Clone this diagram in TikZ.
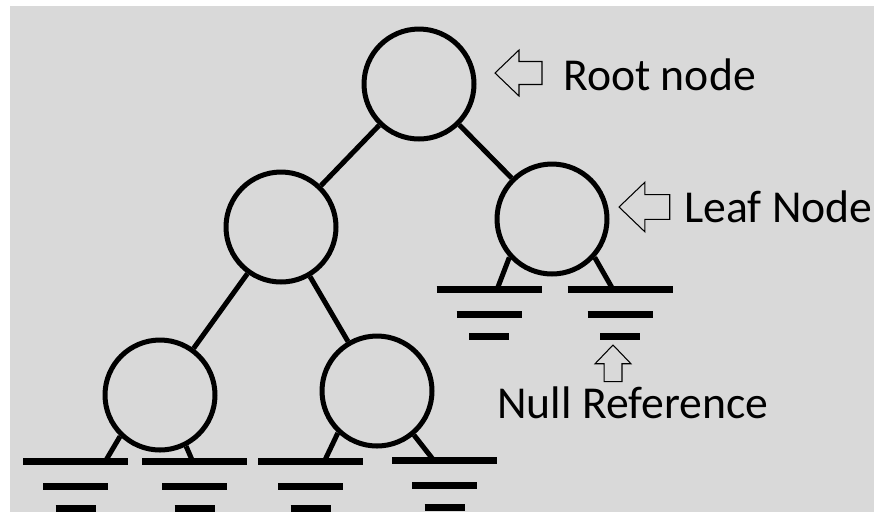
\documentclass[tikz,border=0pt]{standalone}
\usepackage{fontspec}
\setmainfont{Carlito}
\usetikzlibrary{calc}
\definecolor{paper}{RGB}{217,217,217}

% three bars for a null reference, hung from a named coordinate
\newcommand{\nullref}[3]{%
  \coordinate (#1) at (#2,#3);
  \draw[nullbar] ($(#1)+(-52.5,0)$) -- ++(105,0);
  \draw[nullbar] ($(#1)+(-32.5,25)$) -- ++(65,0);
  \draw[nullbar] ($(#1)+(-20,47)$) -- ++(40,0);
}

\begin{document}
\begin{tikzpicture}[
      x=0.02cm, y=-0.02cm,
      treenode/.style={circle, draw, line width=2.85pt, minimum size=2.2cm, inner sep=0pt},  % the tree's nodes
      branch/.style={line width=2.85pt},
      nullbar/.style={line width=4pt},
      note/.style={font=\fontsize{26}{30}\selectfont, anchor=base west, inner sep=0pt},
      pics/hollowarrow/.style={code={
          \draw[line width=0.6pt, line join=miter]
            (0,0) -- (24,23) -- (24,11.5) -- (47,11.5) -- (47,-11.5) -- (24,-11.5) -- (24,-23) -- cycle;
      }}
    ]
    \fill[white] (0,0) rectangle (874,512);
    \fill[paper] (10,6) rectangle (874,512);

    \node[treenode] (root) at (419,84) {};
    \node[treenode] (lchild) at (281,227) {};
    \node[treenode] (leaf) at (552,219) {};
    \node[treenode] (ll) at (160,395) {};
    \node[treenode] (lr) at (377,391) {};

    \draw[branch] (root) -- (lchild);
    \draw[branch] (root) -- (leaf);
    \draw[branch] (lchild) -- (ll);
    \draw[branch] (lchild) -- (lr);

    % null references under the leaves
    \nullref{nA}{489}{289.5}
    \nullref{nB}{620}{289.5}
    \nullref{nC}{75.5}{461}
    \nullref{nD}{194.5}{461}
    \nullref{nE}{310.5}{461}
    \nullref{nF}{444.5}{460}

    \draw[branch] (leaf.222) -- ($(nA)+(8,0)$);
    \draw[branch] (leaf.318) -- ($(nB)+(-7,0)$);
    \draw[branch] (ll.226) -- ($(nC)+(30,0)$);
    \draw[branch] (ll.297) -- ($(nD)+(-2,0)$);
    \draw[branch] (lr.227) -- ($(nE)+(14,0)$);
    \draw[branch] (lr.310) -- ($(nF)+(-11,0)$);

    % pointers and their texts
    \pic at (495,73) {hollowarrow};
    \pic[scale=1.08] at (619,207) {hollowarrow};
    \pic[scale=0.78, rotate=-90] at (613,345) {hollowarrow};

    \node[note] (rootnote) at (563,90) {Root node};
    \node[note] (leafnote) at (684,222) {Leaf Node};
    \node[note] (nullnote) at (497,418) {Null Reference};
\end{tikzpicture}
\end{document}
